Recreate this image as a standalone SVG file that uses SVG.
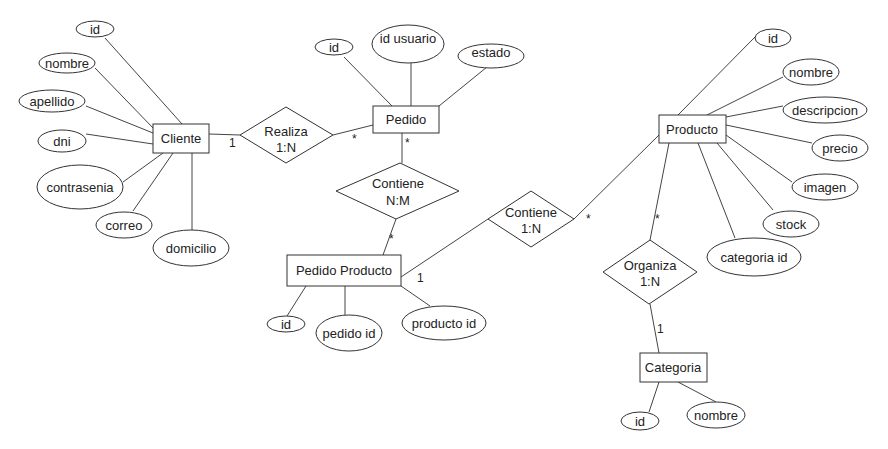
<svg xmlns="http://www.w3.org/2000/svg" width="888" height="449" viewBox="0 0 888 449">
  <style>
    .bg { fill: #ffffff; }
    .ent { fill: #ffffff; stroke: #333333; stroke-width: 1; }
    .attr { fill: #ffffff; stroke: #333333; stroke-width: 1; }
    .rel { fill: #ffffff; stroke: #333333; stroke-width: 1; }
    .ln { stroke: #444444; stroke-width: 1; fill: none; }
    text { font-family: "Liberation Sans", Arial, sans-serif; font-size: 13px; fill: #222222; text-anchor: middle; }
    .card { font-size: 12px; text-anchor: start; }
  </style>
  <rect class="bg" x="0" y="0" width="888" height="449"/>

  <!-- connectors -->
  <g id="connectors">
    <!-- Cliente attributes -->
    <line class="ln" x1="105" y1="38" x2="182" y2="124"/>
    <line class="ln" x1="95" y1="68" x2="154" y2="129"/>
    <line class="ln" x1="86" y1="106" x2="153" y2="133"/>
    <line class="ln" x1="86" y1="134" x2="153" y2="144"/>
    <line class="ln" x1="123" y1="182" x2="163" y2="153"/>
    <line class="ln" x1="133" y1="211" x2="173" y2="153"/>
    <line class="ln" x1="192" y1="153" x2="192" y2="230"/>
    <!-- Cliente - Realiza - Pedido -->
    <line class="ln" x1="209" y1="134" x2="240" y2="135"/>
    <line class="ln" x1="333" y1="135" x2="373" y2="125"/>
    <!-- Pedido attributes -->
    <line class="ln" x1="344" y1="57" x2="392" y2="106"/>
    <line class="ln" x1="411" y1="63" x2="411" y2="106"/>
    <line class="ln" x1="487" y1="67" x2="439" y2="106"/>
    <!-- Pedido - Contiene N:M - Pedido Producto -->
    <line class="ln" x1="402" y1="133" x2="402" y2="163"/>
    <line class="ln" x1="396" y1="219" x2="383" y2="255"/>
    <!-- Pedido Producto attributes -->
    <line class="ln" x1="287" y1="316" x2="306" y2="286"/>
    <line class="ln" x1="345" y1="286" x2="345" y2="315"/>
    <line class="ln" x1="430" y1="306" x2="401" y2="286"/>
    <!-- Pedido Producto - Contiene 1:N - Producto -->
    <line class="ln" x1="401" y1="277" x2="488" y2="219"/>
    <line class="ln" x1="574" y1="219" x2="659" y2="135"/>
    <!-- Producto attributes -->
    <line class="ln" x1="755" y1="37" x2="678" y2="115"/>
    <line class="ln" x1="783" y1="77" x2="707" y2="115"/>
    <line class="ln" x1="783" y1="106" x2="726" y2="117"/>
    <line class="ln" x1="726" y1="125" x2="812" y2="143"/>
    <line class="ln" x1="792" y1="182" x2="726" y2="135"/>
    <line class="ln" x1="773" y1="210" x2="717" y2="143"/>
    <line class="ln" x1="735" y1="238" x2="698" y2="143"/>
    <!-- Producto - Organiza - Categoria -->
    <line class="ln" x1="669" y1="143" x2="650" y2="240"/>
    <line class="ln" x1="650" y1="304" x2="659" y2="353"/>
    <!-- Categoria attributes -->
    <line class="ln" x1="649" y1="412" x2="659" y2="382"/>
    <line class="ln" x1="716" y1="402" x2="678" y2="382"/>
  </g>

  <!-- cardinality labels -->
  <g id="cardinalities">
    <text class="card" x="229" y="147">1</text>
    <text class="card" x="352" y="143">*</text>
    <text class="card" x="405" y="147">*</text>
    <text class="card" x="389" y="243">*</text>
    <text class="card" x="586" y="223">*</text>
    <text class="card" x="655" y="223">*</text>
    <text class="card" x="417" y="282">1</text>
    <text class="card" x="657" y="333">1</text>
  </g>

  <!-- Cliente -->
  <g id="cliente">
    <rect class="ent" x="153" y="124" width="56" height="29"/>
    <text x="181" y="143">Cliente</text>
  </g>
  <g id="cliente-id"><ellipse class="attr" cx="95" cy="29" rx="19" ry="8"/><text x="95" y="33.5">id</text></g>
  <g id="cliente-nombre"><ellipse class="attr" cx="67" cy="63" rx="28" ry="10"/><text x="67" y="67.5">nombre</text></g>
  <g id="cliente-apellido"><ellipse class="attr" cx="52" cy="101" rx="33" ry="11"/><text x="52" y="105.5">apellido</text></g>
  <g id="cliente-dni"><ellipse class="attr" cx="62" cy="141" rx="24" ry="11"/><text x="62" y="145.5">dni</text></g>
  <g id="cliente-contrasenia"><ellipse class="attr" cx="80" cy="187" rx="43" ry="22"/><text x="80" y="191.5">contrasenia</text></g>
  <g id="cliente-correo"><ellipse class="attr" cx="124" cy="225" rx="28" ry="13"/><text x="124" y="229.5">correo</text></g>
  <g id="cliente-domicilio"><ellipse class="attr" cx="191" cy="248" rx="38" ry="18"/><text x="191" y="252.5">domicilio</text></g>

  <!-- Realiza -->
  <g id="realiza">
    <polygon class="rel" points="286,107 333,135 286,163 240,135"/>
    <text x="286" y="136">Realiza</text>
    <text x="286" y="152">1:N</text>
  </g>

  <!-- Pedido -->
  <g id="pedido">
    <rect class="ent" x="373" y="106" width="66" height="27"/>
    <text x="406" y="124">Pedido</text>
  </g>
  <g id="pedido-id"><ellipse class="attr" cx="334" cy="47" rx="19" ry="8"/><text x="334" y="51.5">id</text></g>
  <g id="pedido-idusuario"><ellipse class="attr" cx="408" cy="44" rx="36" ry="19"/><text x="408" y="43">id usuario</text></g>
  <g id="pedido-estado"><ellipse class="attr" cx="491" cy="56" rx="33" ry="12"/><text x="491" y="57">estado</text></g>

  <!-- Contiene N:M -->
  <g id="contiene-nm">
    <polygon class="rel" points="400,163 459,191 396,219 336,191"/>
    <text x="398" y="188">Contiene</text>
    <text x="398" y="205">N:M</text>
  </g>

  <!-- Pedido Producto -->
  <g id="pedido-producto">
    <rect class="ent" x="287" y="255" width="114" height="31"/>
    <text x="344" y="275">Pedido Producto</text>
  </g>
  <g id="pp-id"><ellipse class="attr" cx="286" cy="324" rx="19" ry="8"/><text x="286" y="328.5">id</text></g>
  <g id="pp-pedidoid"><ellipse class="attr" cx="349" cy="333" rx="33" ry="18"/><text x="349" y="338">pedido id</text></g>
  <g id="pp-productoid"><ellipse class="attr" cx="444" cy="323" rx="42" ry="17"/><text x="444" y="327.5">producto id</text></g>

  <!-- Contiene 1:N -->
  <g id="contiene-1n">
    <polygon class="rel" points="531,191 574,219 531,247 488,219"/>
    <text x="531" y="217">Contiene</text>
    <text x="531" y="233">1:N</text>
  </g>

  <!-- Producto -->
  <g id="producto">
    <rect class="ent" x="659" y="115" width="67" height="28"/>
    <text x="692" y="134">Producto</text>
  </g>
  <g id="producto-id"><ellipse class="attr" cx="773" cy="38" rx="18" ry="9"/><text x="773" y="42.5">id</text></g>
  <g id="producto-nombre"><ellipse class="attr" cx="811" cy="72" rx="28" ry="13"/><text x="811" y="76.5">nombre</text></g>
  <g id="producto-descripcion"><ellipse class="attr" cx="825" cy="110" rx="42" ry="13"/><text x="825" y="114.5">descripcion</text></g>
  <g id="producto-precio"><ellipse class="attr" cx="840" cy="148" rx="28" ry="13"/><text x="840" y="152.5">precio</text></g>
  <g id="producto-imagen"><ellipse class="attr" cx="825" cy="187" rx="33" ry="13"/><text x="825" y="191.5">imagen</text></g>
  <g id="producto-stock"><ellipse class="attr" cx="791" cy="224" rx="28" ry="13"/><text x="791" y="228.5">stock</text></g>
  <g id="producto-categoriaid"><ellipse class="attr" cx="754" cy="257" rx="47" ry="19"/><text x="754" y="261.5">categoria id</text></g>

  <!-- Organiza -->
  <g id="organiza">
    <polygon class="rel" points="650,240 697,272 649,304 603,272"/>
    <text x="650" y="270">Organiza</text>
    <text x="650" y="286">1:N</text>
  </g>

  <!-- Categoria -->
  <g id="categoria">
    <rect class="ent" x="640" y="353" width="67" height="29"/>
    <text x="673" y="372">Categoria</text>
  </g>
  <g id="categoria-id"><ellipse class="attr" cx="640" cy="421" rx="19" ry="9"/><text x="640" y="425.5">id</text></g>
  <g id="categoria-nombre"><ellipse class="attr" cx="716" cy="415" rx="29" ry="13"/><text x="716" y="419.5">nombre</text></g>
</svg>
